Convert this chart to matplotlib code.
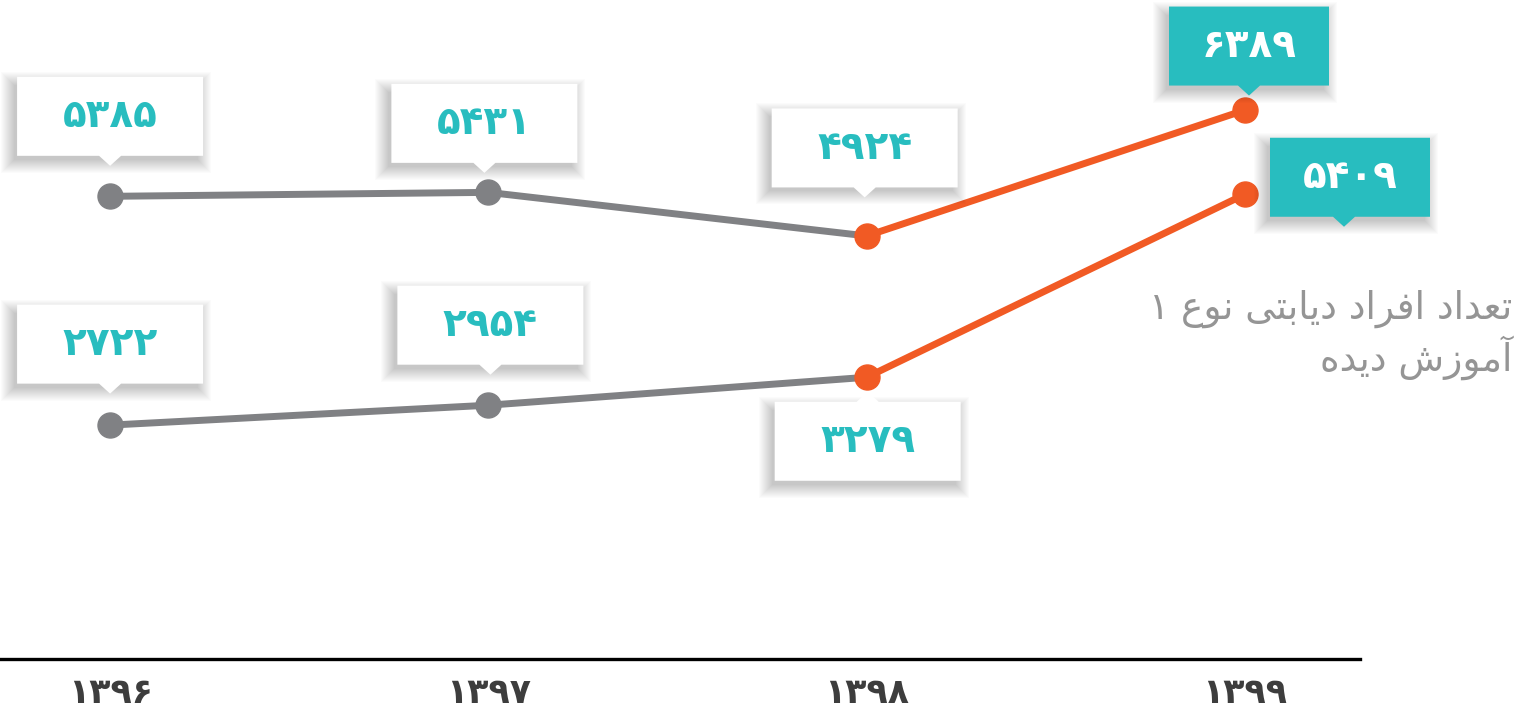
import matplotlib
matplotlib.use("Agg")
import matplotlib.pyplot as plt
from matplotlib import transforms
from matplotlib.patches import Polygon, Rectangle

# data
years = [1396, 1397, 1398, 1399]
trained = [5385, 5431, 4924, 6389]
diabetic = [2722, 2954, 3279, 5409]

# persian caption, written in presentation forms (visual order) so it joins
caption_1 = "\u06f1 \ufec9\ufeee\ufee7 \ufef0\ufe98\ufe91\ufe8e\ufef3\ufea9 \ufea9\ufe8d\ufeae\ufed3\ufe8d \ufea9\ufe8d\ufeaa\ufecc\ufe97"
caption_2 = "\ufee9\ufeaa\ufef3\ufea9 \ufeb5\ufeaf\ufeee\ufee3\ufe81"

to_fa = str.maketrans("0123456789", "۰۱۲۳۴۵۶۷۸۹")

gray = "#808184"
orange = "#f15a24"
teal = "#28bdbf"

fig = plt.figure(figsize=(15.17, 7.17), dpi=100)
ax = fig.add_axes([0, 58 / 717, 1360 / 1517, 659 / 717])
ax.set_xlim(-0.291, 3.304)
ax.set_ylim(0, 7670)

x = list(range(len(years)))
for series in (trained, diabetic):
    ax.plot(x[:3], series[:3], color=gray, lw=5, solid_capstyle="round", zorder=2)
    ax.plot(x[2:], series[2:], color=orange, lw=5, solid_capstyle="round", zorder=2)
    ax.plot(x[:2], series[:2], "o", color=gray, ms=18, zorder=3)
    ax.plot(x[2:], series[2:], "o", color=orange, ms=18, zorder=3)


def callout(xv, yv, txt, cx, cy, w, h, face, tcol, side="down", px=None):
    # everything in pixels relative to the data point
    trans = transforms.Affine2D().scale(fig.dpi / 100.0) + transforms.ScaledTranslation(xv, yv, ax.transData)
    if px is None:
        px = cx
    l, r, b, t = cx - w / 2, cx + w / 2, cy - h / 2, cy + h / 2
    if side == "down":
        verts = [(l, t), (r, t), (r, b), (px + 11, b), (px, b - 10), (px - 11, b), (l, b)]
    else:
        verts = [(l, b), (r, b), (r, t), (px + 11, t), (px, t + 10), (px - 11, t), (l, t)]
    # soft shadow, a bit down and to the left
    for k in range(0, 14):
        ax.add_patch(Rectangle((l - 3 - k, b - 4 - k), w + 2 * k - 2, h + 2 * k - 4, transform=trans,
                               facecolor="black", edgecolor="none", alpha=0.016,
                               zorder=4, clip_on=False))
    ax.add_patch(Polygon(verts, closed=True, transform=trans, facecolor=face,
                         edgecolor="none", zorder=5, clip_on=False))
    ax.text(cx, cy, txt, transform=trans, ha="center", va="center", color=tcol,
            fontsize=28, fontweight="bold", family="DejaVu Sans", zorder=6, clip_on=False)


up_off = [(0, 80), (-4, 69), (-2, 88)]
lo_off = [(0, 81), (2, 80)]
for i, (cx, cy) in enumerate(up_off):
    callout(x[i], trained[i], str(trained[i]).translate(to_fa), cx, cy, 186, 79, "white", teal)
for i, (cx, cy) in enumerate(lo_off):
    callout(x[i], diabetic[i], str(diabetic[i]).translate(to_fa), cx, cy, 186, 79, "white", teal)
callout(x[2], diabetic[2], str(diabetic[2]).translate(to_fa), 1, -64, 186, 79, "white", teal, side="up")
callout(x[3], trained[3], str(trained[3]).translate(to_fa), 4, 64, 160, 79, teal, "white")
callout(x[3], diabetic[3], str(diabetic[3]).translate(to_fa), 105, 17, 160, 79, teal, "white", px=99)

for s in ("top", "right", "left"):
    ax.spines[s].set_visible(False)
ax.spines["bottom"].set_linewidth(2.4)
ax.spines["bottom"].set_color("black")
ax.set_yticks([])
ax.set_xticks(x)
ax.set_xticklabels([str(y).translate(to_fa) for y in years], fontsize=25,
                   fontweight="bold", color="#3d3d3d", family="DejaVu Sans")
ax.tick_params(axis="x", length=0, pad=12)

fig.text(1512 / 1517, 1 - 309 / 717, caption_1, ha="right", va="center",
         fontsize=27, color="#959595", family="DejaVu Sans")
fig.text(1512 / 1517, 1 - 358 / 717, caption_2, ha="right", va="center",
         fontsize=27, color="#959595", family="DejaVu Sans")

fig.savefig("out.png", dpi=100)
